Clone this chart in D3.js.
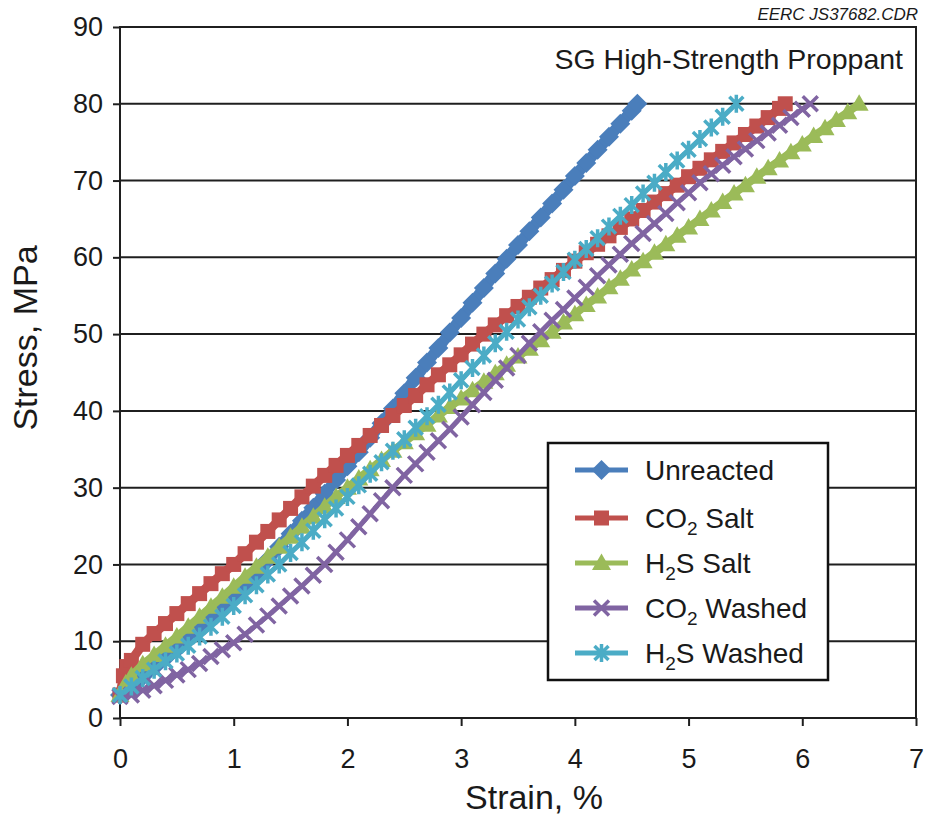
<!DOCTYPE html>
<html><head><meta charset="utf-8">
<script src="https://cdn.jsdelivr.net/npm/d3@7"></script>
<style>body{margin:0;background:#fff} svg text{font-family:"Liberation Sans",Arial,sans-serif;fill:#1a1a1a}</style>
</head><body><svg id="chart" width="929" height="822"></svg>
<script>
const xTicks = [0,1,2,3,4,5,6,7];
const yTicks = [0,10,20,30,40,50,60,70,80,90];
const seriesNames = ["Unreacted","CO2 Salt","H2S Salt","CO2 Washed","H2S Washed"];
const seriesColors = ["#4a7ebb","#c0504d","#9bbb59","#8064a2","#4bacc6"];
const seriesMarkers = ["diamond","square","triangle","x","star"];
const seriesLineWidths = [11, 9, 8, 5, 5];

const unreacted = [[0,3.0],[0.1,4.2],[0.2,5.4],[0.3,6.6],[0.4,7.8],[0.5,9.0],[0.6,10.3],[0.7,11.6],[0.8,12.9],[0.9,14.2],[1.0,15.6],[1.1,17.2],[1.2,18.9],[1.3,20.6],[1.4,22.3],[1.5,24.0],[1.6,25.7],[1.7,27.4],[1.8,29.2],[1.9,31.0],[2.0,32.8],[2.1,34.6],[2.2,36.5],[2.3,38.4],[2.4,40.3],[2.5,42.3],[2.6,44.3],[2.7,46.3],[2.8,48.2],[2.9,50.2],[3.0,52.1],[3.1,54.1],[3.2,56.0],[3.3,57.9],[3.4,59.8],[3.5,61.6],[3.6,63.4],[3.7,65.2],[3.8,67.0],[3.9,68.8],[4.0,70.6],[4.1,72.3],[4.2,74.0],[4.3,75.7],[4.4,77.4],[4.5,79.1],[4.55,80.0]];
const co2Salt = [[0,3.0],[0.03,5.5],[0.06,6.7],[0.1,7.5],[0.2,9.6],[0.3,11.0],[0.4,12.3],[0.5,13.6],[0.6,14.9],[0.7,16.2],[0.8,17.5],[0.9,18.8],[1.0,20.0],[1.1,21.4],[1.2,22.9],[1.3,24.3],[1.4,25.8],[1.5,27.3],[1.6,28.8],[1.7,30.2],[1.8,31.6],[1.9,32.9],[2.0,34.2],[2.1,35.5],[2.2,36.8],[2.3,38.1],[2.4,39.4],[2.5,40.7],[2.6,42.0],[2.7,43.4],[2.8,44.7],[2.9,46.0],[3.0,47.3],[3.1,48.7],[3.2,50.0],[3.3,51.2],[3.4,52.4],[3.5,53.6],[3.6,54.8],[3.7,56.0],[3.8,57.1],[3.9,58.3],[4.0,59.5],[4.1,60.6],[4.2,61.7],[4.3,62.8],[4.4,63.9],[4.5,65.0],[4.6,66.1],[4.7,67.2],[4.8,68.3],[4.9,69.4],[5.0,70.5],[5.1,71.6],[5.2,72.7],[5.3,73.8],[5.4,74.9],[5.5,76.0],[5.6,77.1],[5.7,78.2],[5.8,79.4],[5.85,80.0]];
const h2sSalt = [[0,3.0],[0.05,4.5],[0.1,5.5],[0.2,7.0],[0.3,8.2],[0.4,9.4],[0.5,10.6],[0.6,11.9],[0.7,13.2],[0.8,14.5],[0.9,15.8],[1.0,17.1],[1.1,18.4],[1.2,19.7],[1.3,21.0],[1.4,22.3],[1.5,23.6],[1.6,24.9],[1.7,26.2],[1.8,27.5],[1.9,28.8],[2.0,30.0],[2.1,31.2],[2.2,32.4],[2.3,33.6],[2.4,34.8],[2.5,35.9],[2.6,37.1],[2.7,38.2],[2.8,39.4],[2.9,40.5],[3.0,41.6],[3.1,42.7],[3.2,43.8],[3.3,44.9],[3.4,46.0],[3.5,47.1],[3.6,48.1],[3.7,49.2],[3.8,50.3],[3.9,51.5],[4.0,52.6],[4.1,53.8],[4.2,54.9],[4.3,56.1],[4.4,57.2],[4.5,58.4],[4.6,59.5],[4.7,60.6],[4.8,61.7],[4.9,62.8],[5.0,63.9],[5.1,65.0],[5.2,66.1],[5.3,67.2],[5.4,68.3],[5.5,69.4],[5.6,70.5],[5.7,71.6],[5.8,72.6],[5.9,73.7],[6.0,74.7],[6.1,75.8],[6.2,76.8],[6.3,77.9],[6.4,78.9],[6.5,80.0]];
const co2Washed = [[0,2.8],[0.1,3.0],[0.2,3.6],[0.3,4.2],[0.4,4.9],[0.5,5.6],[0.6,6.3],[0.7,7.1],[0.8,8.0],[0.9,8.9],[1.0,9.8],[1.1,10.9],[1.2,12.1],[1.3,13.3],[1.4,14.6],[1.5,15.9],[1.6,17.2],[1.7,18.6],[1.8,20.0],[1.9,21.6],[2.0,23.2],[2.1,24.9],[2.2,26.6],[2.3,28.3],[2.4,30.0],[2.5,31.6],[2.6,33.1],[2.7,34.6],[2.8,36.1],[2.9,37.6],[3.0,39.2],[3.1,40.8],[3.2,42.4],[3.3,44.0],[3.4,45.6],[3.5,47.2],[3.6,48.8],[3.7,50.3],[3.8,51.8],[3.9,53.2],[4.0,54.7],[4.1,56.1],[4.2,57.6],[4.3,59.0],[4.4,60.4],[4.5,61.8],[4.6,63.1],[4.7,64.4],[4.8,65.7],[4.9,67.1],[5.0,68.4],[5.1,69.7],[5.2,70.9],[5.3,72.0],[5.4,73.1],[5.5,74.1],[5.6,75.2],[5.7,76.2],[5.8,77.2],[5.9,78.2],[6.0,79.3],[6.07,80.0]];
const h2sWashed = [[0,3.0],[0.1,4.1],[0.2,5.2],[0.3,6.3],[0.4,7.4],[0.5,8.4],[0.6,9.4],[0.7,10.6],[0.8,11.9],[0.9,13.2],[1.0,14.6],[1.1,16.0],[1.2,17.3],[1.3,18.7],[1.4,20.0],[1.5,21.5],[1.6,22.9],[1.7,24.4],[1.8,25.9],[1.9,27.3],[2.0,28.8],[2.1,30.3],[2.2,31.8],[2.3,33.3],[2.4,34.8],[2.5,36.3],[2.6,37.8],[2.7,39.3],[2.8,40.8],[2.9,42.4],[3.0,44.0],[3.1,45.6],[3.2,47.2],[3.3,48.8],[3.4,50.3],[3.5,51.9],[3.6,53.5],[3.7,55.0],[3.8,56.6],[3.9,58.1],[4.0,59.7],[4.1,61.1],[4.2,62.5],[4.3,64.0],[4.4,65.4],[4.5,66.8],[4.6,68.3],[4.7,69.7],[4.8,71.1],[4.9,72.6],[5.0,74.0],[5.1,75.4],[5.2,76.9],[5.3,78.3],[5.42,80.0]];

const seriesData = [unreacted, co2Salt, h2sSalt, co2Washed, h2sWashed];

const svg = d3.select("#chart");
const x = d3.scaleLinear().domain([0,7]).range([120,916]);
const y = d3.scaleLinear().domain([0,90]).range([718,27]);
const ink = "#1f1f1f";

// gridlines
svg.append("g").selectAll("line").data(yTicks.filter(t=>t>0 && t<90)).join("line")
  .attr("x1", x(0)).attr("x2", x(7)).attr("y1", d=>y(d)).attr("y2", d=>y(d))
  .attr("stroke", ink).attr("stroke-width", 2);

// axes
const yAxis = svg.append("g").attr("transform", `translate(${x(0)},0)`)
  .call(d3.axisLeft(y).tickValues(yTicks).tickFormat(d3.format("d")).tickSize(7).tickPadding(10).tickSizeOuter(0));
const xAxis = svg.append("g").attr("transform", `translate(0,${y(0)})`)
  .call(d3.axisBottom(x).tickValues(xTicks).tickFormat(d3.format("d")).tickSize(8).tickPadding(23).tickSizeOuter(0));
[yAxis, xAxis].forEach(a => {
  a.select(".domain").remove();
  a.selectAll(".tick line").attr("stroke", ink).attr("stroke-width", 2);
  a.selectAll(".tick text").attr("font-size", 27).attr("font-family", "Liberation Sans, Arial, sans-serif").attr("fill", "#1a1a1a");
});

// frame
svg.append("rect").attr("x", x(0)).attr("y", y(90)).attr("width", x(7)-x(0)).attr("height", y(0)-y(90))
  .attr("fill", "none").attr("stroke", ink).attr("stroke-width", 2);

// markers
function drawMarker(g, type, color) {
  if (type === "diamond") g.append("path").attr("d","M0,-10L10,0L0,10L-10,0Z").attr("fill", color);
  else if (type === "square") g.append("rect").attr("x",-7.5).attr("y",-7.5).attr("width",15).attr("height",15).attr("fill", color);
  else if (type === "triangle") g.append("path").attr("d","M0,-9.5L9.5,7L-9.5,7Z").attr("fill", color);
  else if (type === "x") g.append("path").attr("d","M-7.5,-7.5L7.5,7.5M7.5,-7.5L-7.5,7.5").attr("stroke", color).attr("stroke-width", 3.5).attr("fill","none");
  else if (type === "star") g.append("path").attr("d","M-7,-7L7,7M7,-7L-7,7M0,-9L0,9").attr("stroke", color).attr("stroke-width", 3.5).attr("fill","none");
}

const line = d3.line().x(d=>x(d[0])).y(d=>y(d[1]));
seriesData.forEach((data, i) => {
  const g = svg.append("g");
  g.append("path").datum(data).attr("d", line).attr("fill","none")
    .attr("stroke", seriesColors[i]).attr("stroke-width", seriesLineWidths[i]).attr("stroke-linejoin","round");
  data.forEach(d => {
    const m = g.append("g").attr("transform", `translate(${x(d[0])},${y(d[1])})`);
    drawMarker(m, seriesMarkers[i], seriesColors[i]);
  });
});

// title & note
svg.append("text").attr("x", 903).attr("y", 69).attr("text-anchor","end").attr("font-size", 28.5).text("SG High-Strength Proppant");
svg.append("text").attr("x", 918).attr("y", 20).attr("text-anchor","end").attr("font-size", 17).attr("font-style","italic").text("EERC JS37682.CDR");

// axis titles
svg.append("text").attr("x", (x(0)+x(7))/2 + 16).attr("y", 809).attr("text-anchor","middle").attr("font-size", 34).text("Strain, %");
svg.append("text").attr("transform", "translate(37,338) rotate(-90)").attr("text-anchor","middle").attr("font-size", 34).text("Stress, MPa");

// legend
const lg = svg.append("g");
lg.append("rect").attr("x",548).attr("y",443).attr("width",280).attr("height",237).attr("fill","#fff").attr("stroke","#111").attr("stroke-width",2.5);
const legendY = [470, 518, 563, 608, 653];
const legendLabels = [["Unreacted"],["CO","2"," Salt"],["H","2","S Salt"],["CO","2"," Washed"],["H","2","S Washed"]];
seriesNames.forEach((n, i) => {
  const yy = legendY[i];
  lg.append("line").attr("x1",575).attr("x2",628).attr("y1",yy).attr("y2",yy).attr("stroke",seriesColors[i]).attr("stroke-width",5);
  const m = lg.append("g").attr("transform", `translate(601.5,${yy})`);
  drawMarker(m, seriesMarkers[i], seriesColors[i]);
  const t = lg.append("text").attr("x",645).attr("y",yy+10).attr("font-size",28);
  const parts = legendLabels[i];
  if (parts.length === 1) t.text(parts[0]);
  else {
    t.append("tspan").text(parts[0]);
    t.append("tspan").attr("font-size",19).attr("dy",7).text(parts[1]);
    t.append("tspan").attr("dy",-7).text(parts[2]);
  }
});
</script></body></html>
